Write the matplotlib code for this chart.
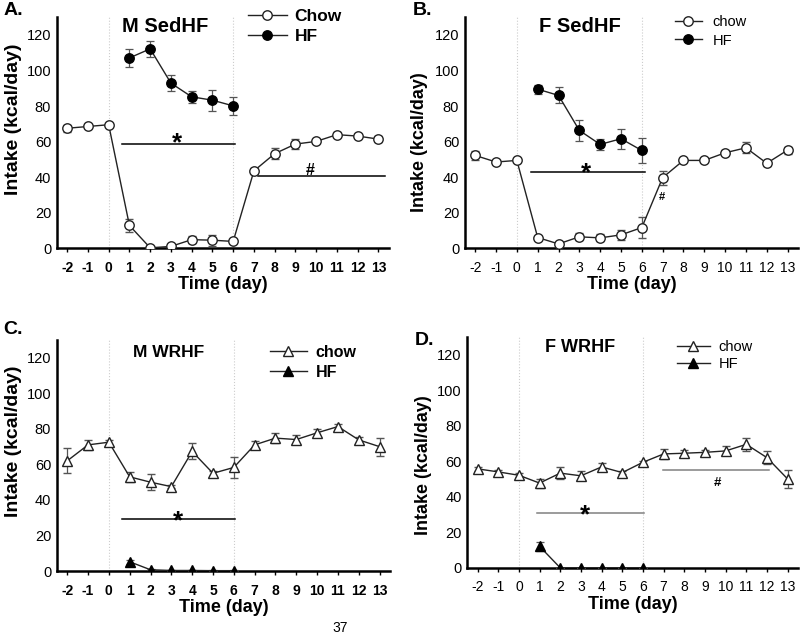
import numpy as np
import matplotlib.pyplot as plt
from matplotlib.lines import Line2D

plt.rcParams['font.family'] = ['Liberation Sans', 'DejaVu Sans']

days = [-2, -1, 0, 1, 2, 3, 4, 5, 6, 7, 8, 9, 10, 11, 12, 13]
hf_days = [1, 2, 3, 4, 5, 6]

# A: male sedentary
a_chow = [67.5, 68.5, 69.5, 12.8, 0.2, 1.0, 4.8, 4.5, 3.8, 43.5, 53.2, 58.6, 60.1, 63.9, 63.1, 61.4]
a_chow_err = [2, 1, 1, 3.5, 0.5, 1, 2, 3, 1, 1.5, 3, 3, 1, 1.5, 1, 1.5]
a_hf = [107.1, 112.2, 92.9, 85.2, 83.3, 80.1]
a_hf_err = [5, 4.5, 4.5, 3.5, 6, 5]

# B: female sedentary
b_chow = [52.2, 48.5, 49.4, 6.0, 2.4, 6.4, 5.8, 7.5, 11.6, 39.7, 49.4, 49.4, 53.7, 56.5, 47.8, 55.2]
b_chow_err = [2.5, 1, 1, 1, 1, 2, 2, 3, 6, 4, 1, 1, 1.5, 3, 1.5, 2]
b_hf = [89.5, 86.0, 66.3, 58.4, 61.6, 55.0]
b_hf_err = [2.5, 4.5, 6, 3, 5.5, 7]

# C: male wheel running
c_chow = [62.0, 71.0, 72.5, 53.0, 50.0, 47.5, 67.3, 55.0, 58.3, 71.0, 74.8, 74.0, 77.8, 81.3, 73.8, 70.0]
c_chow_err = [7, 3, 1.5, 3, 4.5, 1, 4.5, 1.5, 6, 2, 3, 2.5, 2, 1.5, 1.5, 5]
c_hf = [5.2, 0.7, 0.3, 0.3, 0.2, 0.2]
c_hf_err = [1, 0.3, 0.2, 0.2, 0.2, 0.2]

# D: female wheel running
d_chow = [55.7, 54.0, 52.1, 47.7, 53.3, 51.8, 56.8, 53.6, 59.4, 64.1, 64.5, 65.0, 65.8, 69.5, 62.0, 50.0]
d_chow_err = [1, 1, 1, 2.5, 3.5, 2.5, 2, 1, 1, 3, 2, 1.5, 2.5, 3.5, 3.5, 5]
d_hf = [12.1, 0, 0, 0, 0, 0]
d_hf_err = [2.5, 0, 0, 0, 0, 0]

ytick_vals = [0, 20, 40, 60, 80, 100, 120]

fig = plt.figure(figsize=(8, 6.38), dpi=100)

# star = (line x0, line x1, line y, star x, star centre y)
# hash = (line x0, line x1, line y, hash x, hash centre y, colour, size)
panels = [
    dict(rect=[0.071, 0.611, 0.415, 0.362], letter='A.', lx=0.004, ly=0.997,
         title='M SedHF', tx=0.325, ty=0.96, tsize=14.5, marker='o',
         chow=a_chow, chow_err=a_chow_err, hf=a_hf, hf_err=a_hf_err,
         names=['Chow', 'HF'], bold=True, ylsize=14, ylx=-0.105, yly=0.56,
         leg=(0.575, 1.035), lsize=12.5, lspace=0.28, hlen=2.25, hpad=0.45,
         star=(0.64, 6.08, 58.6, 3.3, 63.5), hash=(7.18, 13.3, 40.4, 9.7, 44.2, 'black', 11.5),
         line_col='black'),
    dict(rect=[0.581, 0.611, 0.4165, 0.362], letter='B.', lx=0.516, ly=0.997,
         title='F SedHF', tx=0.345, ty=0.962, tsize=14.5, marker='o',
         chow=b_chow, chow_err=b_chow_err, hf=b_hf, hf_err=b_hf_err,
         names=['chow', 'HF'], bold=False, ylsize=13, ylx=-0.11, yly=0.46,
         leg=(0.63, 1.009), lsize=10.5, lspace=0.3, hlen=1.85, hpad=0.75,
         star=(0.68, 6.13, 42.7, 3.3, 46.6), hash=(None, None, None, 6.95, 29.2, 'black', 8),
         line_col='black'),
    dict(rect=[0.071, 0.105, 0.4165, 0.362], letter='C.', lx=0.004, ly=0.497,
         title='M WRHF', tx=0.336, ty=0.948, tsize=12.5, marker='^',
         chow=c_chow, chow_err=c_chow_err, hf=c_hf, hf_err=c_hf_err,
         names=['chow', 'HF'], bold=True, ylsize=14, ylx=-0.105, yly=0.56,
         leg=(0.64, 0.98), lsize=11.5, lspace=0.32, hlen=2.3, hpad=0.55,
         star=(0.64, 6.08, 29.3, 3.3, 32.5), hash=None,
         line_col='black'),
    dict(rect=[0.584, 0.110, 0.4135, 0.362], letter='D.', lx=0.519, ly=0.480,
         title='F WRHF', tx=0.34, ty=0.955, tsize=13, marker='^',
         chow=d_chow, chow_err=d_chow_err, hf=d_hf, hf_err=d_hf_err,
         names=['chow', 'HF'], bold=False, ylsize=13, ylx=-0.106, yly=0.446,
         leg=(0.634, 0.987), lsize=10.5, lspace=0.23, hlen=2.26, hpad=0.6,
         star=(0.88, 6.03, 30.8, 3.2, 34.0), hash=(6.97, 12.09, 55.3, 9.6, 48.9, '#808080', 9.5),
         line_col='#808080'),
]

for p in panels:
    ax = fig.add_axes(p['rect'])
    weight = 'bold' if p['bold'] else 'normal'
    ms = 6.8 if p['marker'] == 'o' else 7

    ax.axvline(0, color='#cccccc', lw=0.8, ls=':', zorder=0)
    ax.axvline(6, color='#cccccc', lw=0.8, ls=':', zorder=0)

    ax.errorbar(days, p['chow'], yerr=p['chow_err'], color='#222222', lw=1,
                marker=p['marker'], ms=ms, mfc='white', mec='#222222', mew=1,
                ecolor='#555555', elinewidth=0.9, capsize=3, capthick=0.9, zorder=3)
    ax.errorbar(hf_days, p['hf'], yerr=p['hf_err'], color='#222222', lw=1,
                marker=p['marker'], ms=ms, mfc='black', mec='black',
                ecolor='#555555', elinewidth=0.9, capsize=3, capthick=0.9, zorder=4)

    # significance bars
    x0, x1, ly, sx, sy = p['star']
    ax.plot([x0, x1], [ly, ly], color=p['line_col'], lw=1.1)
    ax.text(sx, sy - 8.2, '*', ha='center', va='baseline', fontsize=18.5, fontweight='bold')
    if p['hash'] is not None:
        h0, h1, hy, hx, hcy, hc, hs = p['hash']
        if h0 is not None:
            ax.plot([h0, h1], [hy, hy], color=hc, lw=1.1)
        ax.text(hx, hcy - 0.35 * hs * 1.389 / 1.78, '#', ha='center', va='baseline',
                fontsize=hs, fontweight='bold')

    ax.set_xlim(-2.5, 13.5)
    ax.set_ylim(0, 130)
    ax.set_xticks(days)
    ax.set_xticklabels([str(d) for d in days], fontweight=weight, fontsize=10)
    ax.set_yticks(ytick_vals)
    ax.set_yticklabels([str(v) for v in ytick_vals], fontsize=10.5)
    ax.tick_params(axis='x', direction='out', length=3, width=1, pad=6)
    ax.tick_params(axis='y', length=0, pad=4)
    for s in ['top', 'right']:
        ax.spines[s].set_visible(False)
    for s in ['left', 'bottom']:
        ax.spines[s].set_linewidth(1.8)

    ax.set_xlabel('Time (day)', fontsize=13, fontweight='bold')
    ax.xaxis.set_label_coords(0.5, -0.122)
    ax.set_ylabel('Intake (kcal/day)', fontsize=p['ylsize'], fontweight='bold')
    ax.yaxis.set_label_coords(p['ylx'], p['yly'])

    ax.text(p['tx'], p['ty'], p['title'], transform=ax.transAxes, ha='center',
            va='center', fontsize=p['tsize'], fontweight='bold')

    handles = [
        Line2D([], [], color='#222222', lw=1, marker=p['marker'], ms=ms,
               mfc='white', mec='#222222'),
        Line2D([], [], color='#222222', lw=1, marker=p['marker'], ms=ms,
               mfc='black', mec='black'),
    ]
    ax.legend(handles, p['names'], loc='upper left', bbox_to_anchor=p['leg'],
              frameon=False, borderpad=0, borderaxespad=0,
              handlelength=p['hlen'], labelspacing=p['lspace'], handletextpad=p['hpad'],
              prop={'size': p['lsize'], 'weight': weight})

    fig.text(p['lx'], p['ly'], p['letter'], ha='left', va='top', fontsize=14, fontweight='bold')

fig.text(0.425, 0.005, '37', ha='center', va='bottom', fontsize=10)

fig.savefig('out.png', dpi=100)
